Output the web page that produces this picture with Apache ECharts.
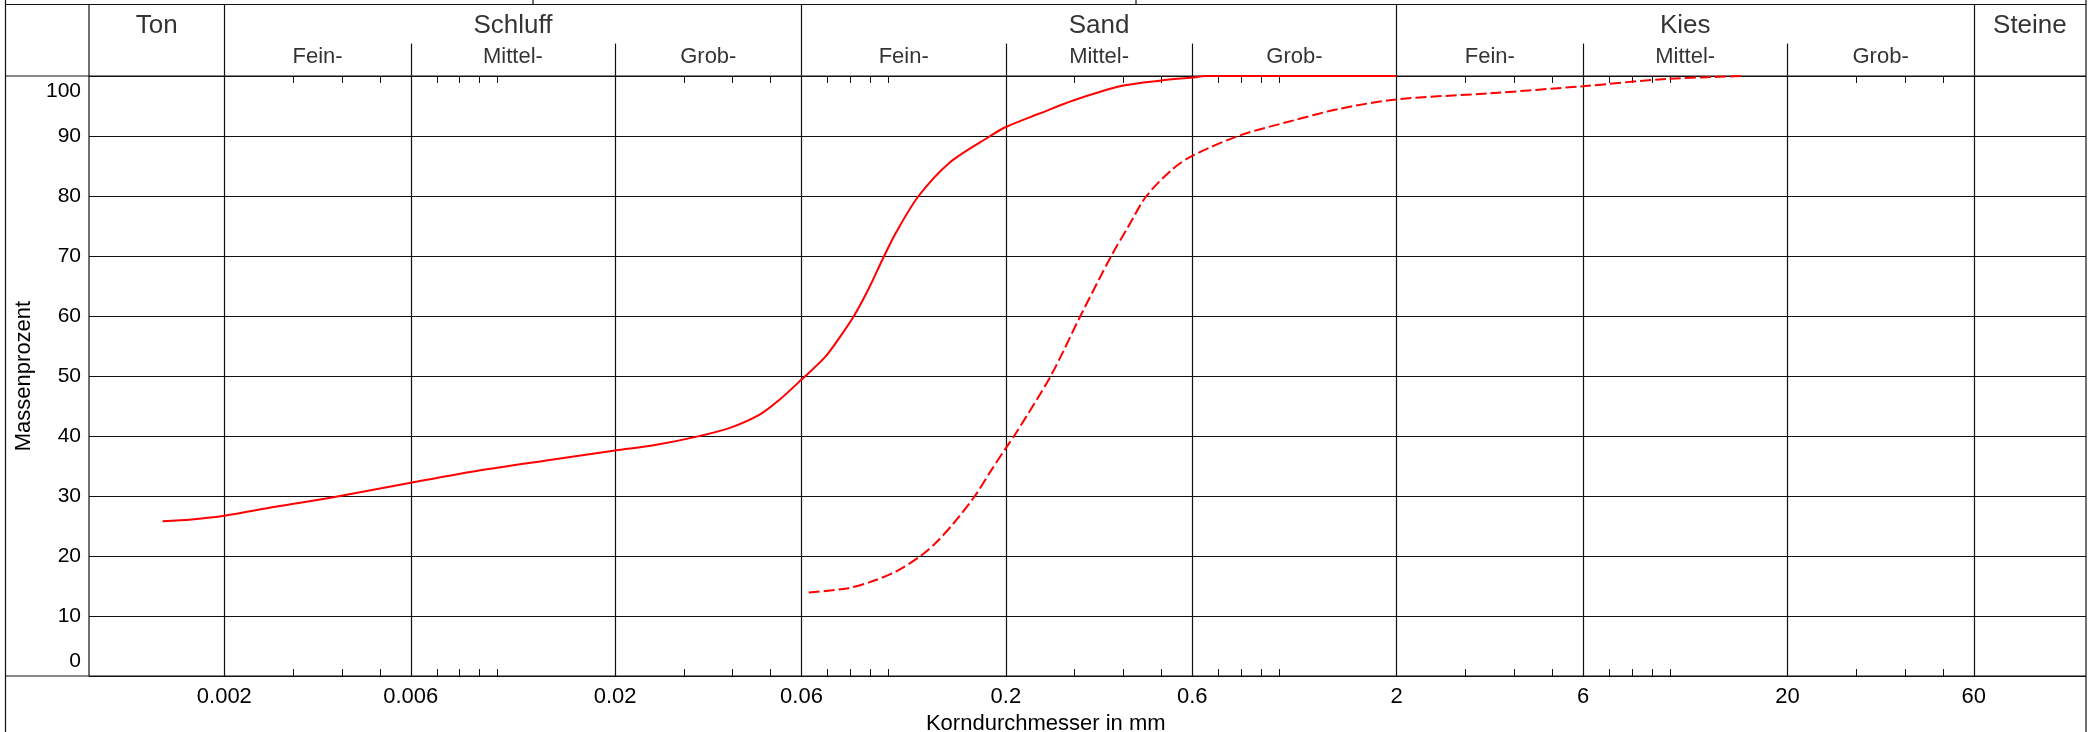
<!DOCTYPE html>
<html>
<head>
<meta charset="utf-8">
<script src="https://cdn.jsdelivr.net/npm/echarts@6/dist/echarts.min.js"></script>
<style>
  html, body { margin: 0; padding: 0; background: #fff; }
  #chart { width: 2095px; height: 732px; }
</style>
</head>
<body>
<div id="chart"></div>
<script>
// ---------- data ----------
// Sieblinie 1 (durchgezogen): Korndurchmesser in mm / Massenprozent
const solidX = [0.00139, 0.00165, 0.002, 0.0027, 0.0038, 0.006, 0.0089, 0.0136, 0.02, 0.0253, 0.0324, 0.0395, 0.047, 0.0526, 0.06, 0.0688, 0.0745, 0.0817, 0.0895, 0.0968, 0.1049, 0.1196, 0.1438, 0.1825, 0.2, 0.243, 0.30, 0.40, 0.50, 0.60, 0.65, 2.0];
const solidY = [25.8, 26.1, 26.7, 28.2, 29.8, 32.2, 34.2, 36.0, 37.6, 38.5, 39.9, 41.4, 43.6, 46.0, 49.4, 53.1, 56.1, 60.0, 64.8, 69.5, 74.0, 80.0, 85.6, 90.0, 91.5, 93.7, 96.0, 98.4, 99.25, 99.75, 100, 100];
// Sieblinie 2 (gestrichelt)
const dashedX = [0.0626, 0.0784, 0.0893, 0.1046, 0.1209, 0.1324, 0.1472, 0.1666, 0.1819, 0.2, 0.21, 0.2605, 0.3103, 0.3721, 0.4106, 0.458, 0.5346, 0.6, 0.794, 1.09, 1.42, 2.0, 3.44, 6.0, 9.78, 15.6];
const dashedY = [13.9, 14.6, 15.6, 17.4, 20.0, 22.2, 25.5, 30.0, 33.9, 38.0, 40.0, 50.0, 60.0, 70.0, 74.8, 80.0, 84.5, 86.7, 90.1, 92.6, 94.5, 96.1, 97.1, 98.3, 99.5, 100];

// Kornfraktionen (Kopfzeile)
const zoneNames = ['Ton', 'Schluff', 'Sand', 'Kies', 'Steine'];
const zoneBounds = [0.000901, 0.002, 0.06, 2, 60, 116.2];
const subNames = ['Fein-', 'Mittel-', 'Grob-'];
const subBoundsSchluff = [0.002, 0.006, 0.02, 0.06];
const subBoundsSand = [0.06, 0.2, 0.6, 2];
const subBoundsKies = [2, 6, 20, 60];

// Achsen
const xTickValues = [0.002, 0.006, 0.02, 0.06, 0.2, 0.6, 2, 6, 20, 60];
const xTickLabels = ['0.002', '0.006', '0.02', '0.06', '0.2', '0.6', '2', '6', '20', '60'];
const xMinorTicks = [0.003, 0.004, 0.005, 0.007, 0.008, 0.009, 0.01,
  0.03, 0.04, 0.05, 0.07, 0.08, 0.09, 0.1,
  0.3, 0.4, 0.5, 0.7, 0.8, 0.9, 1,
  3, 4, 5, 7, 8, 9, 10,
  30, 40, 50];
const subDividers = [0.006, 0.02, 0.2, 0.6, 6, 20];
const mainDividers = [0.002, 0.06, 2, 60];
const yTicks = [0, 10, 20, 30, 40, 50, 60, 70, 80, 90, 100];

// ---------- layout constants ----------
const W = 2095, H = 732;
const FRAME_L = 5.5, FRAME_R = 2086, FRAME_T = 4.5;
const PLOT_L = 89, PLOT_T = 76, PLOT_B = 676;
const HEAD_MAIN_Y = 0.704, HEAD_SUB_Y = 0.264, HEAD_SUB_TOP = 0.454;
const FONT = "'Liberation Sans', Arial, Helvetica, sans-serif";
const LINE_C = '#111111';

const xMin = zoneBounds[0], xMax = zoneBounds[zoneBounds.length - 1];
const yMin = yTicks[0], yMax = yTicks[yTicks.length - 1];
const gmean = (a, b) => Math.sqrt(a * b);

const mainLabelData = zoneNames.map((n, i) => ({ name: n, value: [gmean(zoneBounds[i], zoneBounds[i + 1]), HEAD_MAIN_Y] }));
const subLabelData = [];
[subBoundsSchluff, subBoundsSand, subBoundsKies].forEach(b => {
  subNames.forEach((n, i) => subLabelData.push({ name: n, value: [gmean(b[i], b[i + 1]), HEAD_SUB_Y] }));
});

const chart = echarts.init(document.getElementById('chart'), null, { renderer: 'canvas', width: W, height: H });

const hline = (x1, x2, y) => ({ type: 'line', silent: true, shape: { x1, y1: y, x2, y2: y }, style: { stroke: LINE_C, lineWidth: 1.2 } });
const vline = (x, y1, y2) => ({ type: 'line', silent: true, shape: { x1: x, y1, x2: x, y2 }, style: { stroke: LINE_C, lineWidth: 1.2 } });

const logAxisBase = { type: 'log', logBase: 10, min: xMin, max: xMax };

chart.setOption({
  animation: false,
  backgroundColor: '#fff',
  textStyle: { fontFamily: FONT, color: '#000' },
  grid: [
    { left: PLOT_L, right: W - FRAME_R, top: PLOT_T, bottom: H - PLOT_B, containLabel: false },
    { left: PLOT_L, right: W - FRAME_R, top: FRAME_T, height: PLOT_T - FRAME_T, containLabel: false }
  ],
  xAxis: [
    Object.assign({}, logAxisBase, {
      gridIndex: 0, position: 'bottom',
      axisLine: { show: false },
      axisTick: { show: true, inside: true, length: 7, customValues: xMinorTicks, lineStyle: { color: LINE_C, width: 1 } },
      axisLabel: {
        show: true, customValues: xTickValues, fontSize: 22, margin: 10, color: '#000', fontFamily: FONT,
        formatter: v => { const i = xTickValues.findIndex(t => Math.abs(t - v) / t < 1e-6); return i >= 0 ? xTickLabels[i] : ''; }
      },
      splitLine: { show: false }
    }),
    Object.assign({}, logAxisBase, {
      gridIndex: 0, position: 'top',
      axisLine: { show: false },
      axisTick: { show: true, inside: true, length: 7, customValues: xMinorTicks, lineStyle: { color: LINE_C, width: 1 } },
      axisLabel: { show: false },
      splitLine: { show: false }
    }),
    Object.assign({}, logAxisBase, {
      gridIndex: 1, show: false,
      splitLine: { show: false }
    })
  ],
  yAxis: [
    {
      type: 'value', gridIndex: 0, min: yMin, max: yMax, interval: 10,
      name: 'Massenprozent', nameLocation: 'middle', nameGap: 52,
      nameTextStyle: { fontSize: 22, color: '#000', fontFamily: FONT },
      axisLine: { show: false }, axisTick: { show: false },
      axisLabel: {
        fontSize: 21, margin: 8, color: '#000', fontFamily: FONT,
        formatter: v => v === yMin ? '{lo|' + v + '}' : (v === yMax ? '{hi|' + v + '}' : String(v)),
        rich: {
          lo: { fontSize: 21, fontFamily: FONT, color: '#000', padding: [0, 0, 30, 0] },
          hi: { fontSize: 21, fontFamily: FONT, color: '#000', padding: [30, 0, 0, 0] }
        }
      },
      splitLine: { show: true, lineStyle: { color: LINE_C, width: 1.2 } }
    },
    { type: 'value', gridIndex: 1, min: 0, max: 1, show: false, splitLine: { show: false } }
  ],
  series: [
    {
      name: 'grid-lines', type: 'line', xAxisIndex: 0, yAxisIndex: 0, data: [], silent: true, z: 1,
      markLine: {
        silent: true, symbol: ['none', 'none'], label: { show: false }, z: 1, animation: false, precision: 8,
        lineStyle: { type: 'solid', color: LINE_C, width: 1.2 },
        emphasis: { disabled: true },
        data: xTickValues.map(v => [{ coord: [v, yMin] }, { coord: [v, yMax] }])
      }
    },
    {
      name: 'Probe 1', type: 'line', xAxisIndex: 0, yAxisIndex: 0, z: 3,
      data: solidX.map((x, i) => [x, solidY[i]]),
      showSymbol: false, symbol: 'none', smooth: 0.3,
      lineStyle: { color: '#ff0000', width: 2, type: 'solid' }
    },
    {
      name: 'Probe 2', type: 'line', xAxisIndex: 0, yAxisIndex: 0, z: 3,
      data: dashedX.map((x, i) => [x, dashedY[i]]),
      showSymbol: false, symbol: 'none', smooth: 0.3,
      lineStyle: { color: '#ff0000', width: 2, type: [11, 4] }
    },
    {
      name: 'header-main', type: 'scatter', xAxisIndex: 2, yAxisIndex: 1, silent: true,
      data: mainLabelData, symbolSize: 1, itemStyle: { color: 'rgba(0,0,0,0)' },
      label: { show: true, position: 'inside', formatter: '{b}', fontSize: 26, color: '#000', fontFamily: FONT },
      markLine: {
        silent: true, symbol: ['none', 'none'], label: { show: false }, animation: false, precision: 8,
        lineStyle: { type: 'solid', color: LINE_C, width: 1.2 },
        emphasis: { disabled: true },
        data: mainDividers.map(v => [{ coord: [v, 0] }, { coord: [v, 1] }])
          .concat(subDividers.map(v => [{ coord: [v, 0] }, { coord: [v, HEAD_SUB_TOP] }]))
      }
    },
    {
      name: 'header-sub', type: 'scatter', xAxisIndex: 2, yAxisIndex: 1, silent: true,
      data: subLabelData, symbolSize: 1, itemStyle: { color: 'rgba(0,0,0,0)' },
      label: { show: true, position: 'inside', formatter: '{b}', fontSize: 22, color: '#000', fontFamily: FONT }
    }
  ],
  graphic: [
    hline(FRAME_L, FRAME_R, FRAME_T),
    vline(533, 0, FRAME_T),
    vline(1136, 0, FRAME_T),
    vline(FRAME_L, 0, H),
    vline(FRAME_R, 0, H),
    hline(FRAME_L, FRAME_R, PLOT_T),
    hline(FRAME_L, FRAME_R, PLOT_B),
    vline(PLOT_L, FRAME_T, PLOT_B),
    {
      type: 'text', silent: true, x: (FRAME_L + FRAME_R) / 2, y: 724,
      style: { text: 'Korndurchmesser in mm', fontSize: 22, fontFamily: FONT, fill: '#000', align: 'center', verticalAlign: 'middle' }
    }
  ]
});
</script>
</body>
</html>
